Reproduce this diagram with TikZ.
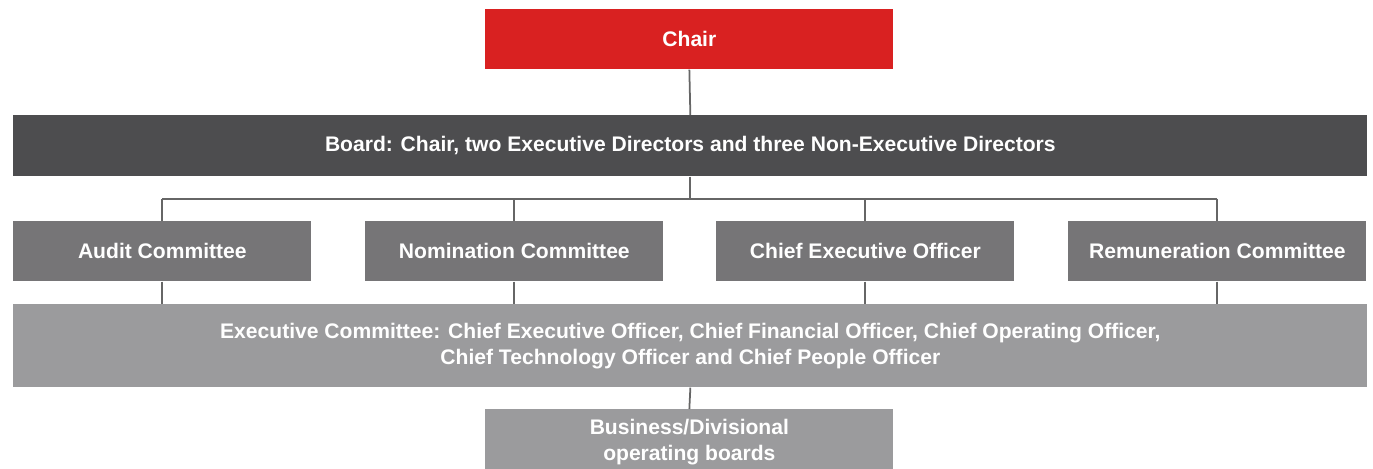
\documentclass[tikz,border=0pt]{standalone}
\usepackage{fontspec}
\setmainfont{Liberation Sans}
\usetikzlibrary{positioning}

\definecolor{chairred}{HTML}{D92121}
\definecolor{boardgray}{HTML}{4D4D4F}
\definecolor{commgray}{HTML}{767577}
\definecolor{execgray}{HTML}{9B9B9D}
\definecolor{linegray}{HTML}{666666}
\newcommand{\PX}{0.02cm}

\tikzset{
  orgbox/.style={rectangle, text=white, inner sep=0pt, align=center,
    anchor=north west, font=\bfseries\fontsize{12}{15}\selectfont},
  orgline/.style={linegray, line width=1pt},
}

\begin{document}
\begin{tikzpicture}[x=\PX, y=-\PX]
\useasboundingbox (0,0) rectangle (1373,468);

% top of the structure
\node[orgbox, fill=chairred, minimum width=408*\PX, minimum height=60*\PX] (chair) at (485,9) {Chair};
\node[orgbox, fill=boardgray, minimum width=1354*\PX, minimum height=61*\PX] (board) at (13,115)
  {Board: Chair, two Executive Directors and three Non-Executive Directors};

% committees row
\foreach \x/\name/\descr in {13/audit/Audit Committee, 365/nomin/Nomination Committee,
  716/ceo/Chief Executive Officer, 1068/remun/Remuneration Committee}
\node[orgbox, fill=commgray, minimum width=298*\PX, minimum height=60*\PX] (\name) at (\x,221) {\descr};

% executive level
\node[orgbox, fill=execgray, minimum width=1354*\PX, minimum height=83*\PX] (exec) at (13,304)
  {Executive Committee: Chief Executive Officer, Chief Financial Officer, Chief Operating Officer,\\
   Chief Technology Officer and Chief People Officer};
\node[orgbox, fill=execgray, minimum width=408*\PX, minimum height=66*\PX] (business) at (485,409)
  {Business/Divisional\\operating boards};

% connectors
\draw[orgline] (chair.south) -- (board.north);
\draw[orgline] (board.south) -- ++(0,22) coordinate (bus);
\draw[orgline] (audit.north |- bus) -- (remun.north |- bus);
\foreach \name in {audit,nomin,ceo,remun}{
  \draw[orgline] (\name.north |- bus) -- (\name.north);
  \draw[orgline] (\name.south) -- (\name.south |- exec.north);
}
\draw[orgline] (exec.south) -- (business.north);
\end{tikzpicture}
\end{document}
